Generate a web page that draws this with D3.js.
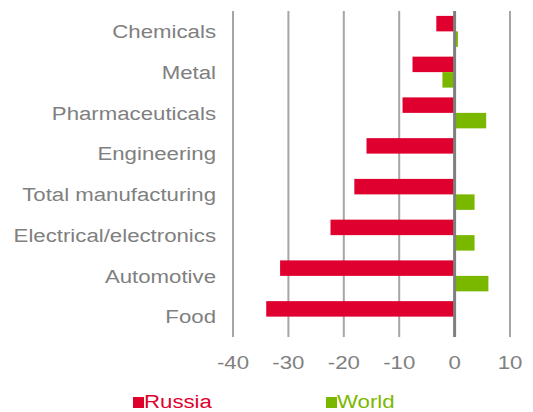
<!DOCTYPE html>
<html lang="en">
<head>
    <meta charset="UTF-8">
    <script type="text/javascript" src="https://d3js.org/d3.v7.min.js"></script>
    <style>
        body { margin: 0; background: #fff; }
        text { font-family: "Liberation Sans", Arial, sans-serif; }
    </style>
</head>
<body>
    <script type="text/javascript">
        const categories = ['Chemicals', 'Metal', 'Pharmaceuticals', 'Engineering',
            'Total manufacturing', 'Electrical/electronics', 'Automotive', 'Food'];
        const russia = [-3.3, -7.6, -9.4, -15.9, -18.1, -22.4, -31.5, -34.0];
        const world = [0.6, -2.2, 5.7, 0, 3.6, 3.6, 6.1, 0];
        const seriesNames = ['Russia', 'World'];
        const xTicks = [-40, -30, -20, -10, 0, 10];

        const colors = { Russia: '#e0002f', World: '#7ab800' };
        const width = 533;
        const height = 412;
        const stretch = 1.17; // reference text looks horizontally stretched

        const svg = d3.select('body')
            .append('svg')
            .attr('width', width)
            .attr('height', height);

        const x = d3.scaleLinear()
            .domain([-40, 10])
            .range([233, 510]);

        const y = d3.scaleBand()
            .domain(categories)
            .range([11, 337])
            .paddingInner(0.24)
            .paddingOuter(0.12);

        const ySub = d3.scaleBand()
            .domain(seriesNames)
            .range([0, y.bandwidth()]);

        // gridlines
        svg.append('g').selectAll('line')
            .data(xTicks.filter(d => d !== 0))
            .enter()
            .append('line')
            .attr('x1', d => x(d))
            .attr('x2', d => x(d))
            .attr('y1', 11)
            .attr('y2', 337)
            .attr('stroke', '#a6a6a6')
            .attr('stroke-width', 2);

        const rows = categories.map((c, i) => ({ cat: c, Russia: russia[i], World: world[i] }));

        const bars = [];
        rows.forEach(r => seriesNames.forEach(s => bars.push({ cat: r.cat, series: s, value: r[s] })));

        svg.append('g').selectAll('rect')
            .data(bars.filter(d => d.value !== 0))
            .enter()
            .append('rect')
            .attr('x', d => Math.min(x(0), x(d.value)))
            .attr('width', d => Math.abs(x(d.value) - x(0)))
            .attr('y', d => y(d.cat) + ySub(d.series))
            .attr('height', ySub.bandwidth())
            .attr('fill', d => colors[d.series]);

        // zero line
        svg.append('line')
            .attr('x1', x(0))
            .attr('x2', x(0))
            .attr('y1', 11)
            .attr('y2', 337)
            .attr('stroke', '#7f7f7f')
            .attr('stroke-width', 3);

        // category labels
        svg.append('g').selectAll('text')
            .data(categories)
            .enter()
            .append('text')
            .attr('transform', d => `translate(216, ${y(d) + y.bandwidth() / 2}) scale(${stretch},1)`)
            .attr('text-anchor', 'end')
            .attr('dy', '0.35em')
            .attr('font-size', 19)
            .attr('fill', '#808080')
            .text(d => d);

        // tick labels
        svg.append('g').selectAll('text')
            .data(xTicks)
            .enter()
            .append('text')
            .attr('transform', d => `translate(${x(d)}, 362) scale(${stretch},1)`)
            .attr('text-anchor', 'middle')
            .attr('dy', '0.35em')
            .attr('font-size', 19)
            .attr('fill', '#808080')
            .text(d => d);

        // legend
        const legendX = { Russia: 133, World: 326 };
        const legend = svg.append('g').selectAll('g')
            .data(seriesNames)
            .enter()
            .append('g')
            .attr('transform', d => `translate(${legendX[d]}, 401)`);

        legend.append('rect')
            .attr('x', 0)
            .attr('y', -4)
            .attr('width', 11)
            .attr('height', 11)
            .attr('fill', d => colors[d]);

        legend.append('text')
            .attr('transform', `translate(11, 0) scale(${stretch},1)`)
            .attr('dy', '0.35em')
            .attr('font-size', 19)
            .attr('fill', d => colors[d])
            .text(d => d);
    </script>
</body>
</html>
